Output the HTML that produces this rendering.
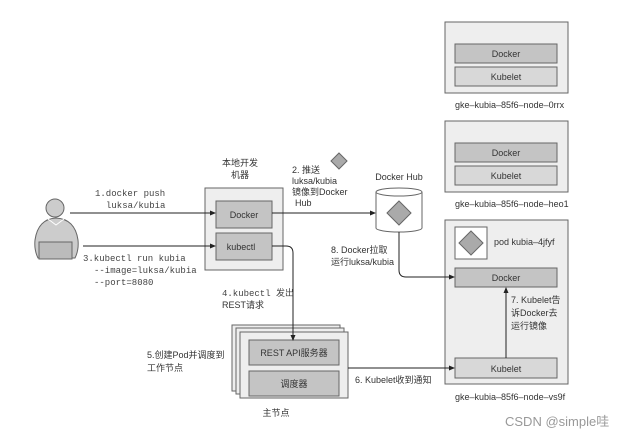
<!DOCTYPE html>
<html><head><meta charset="utf-8"><style>
html,body{margin:0;padding:0;background:#fff}
svg text{font-family:"Liberation Sans","Noto Sans CJK SC",sans-serif;font-size:9px;fill:#333}
.m{font-family:"Liberation Mono","Noto Sans CJK SC",monospace;font-size:9px;fill:#444}
</style></head><body>
<svg width="634" height="439" xmlns="http://www.w3.org/2000/svg">
<defs><marker id="a" markerWidth="6" markerHeight="6" refX="5" refY="3" orient="auto"><path d="M0,0.5 L6,3 L0,5.5z" fill="#222"/></marker></defs>
<g stroke="#666" stroke-width="1">
<rect x="445" y="22" width="123" height="71" fill="#eee"/>
<rect x="455" y="44" width="102" height="19" fill="#c4c4c4"/>
<rect x="455" y="67" width="102" height="19" fill="#d8d8d8"/>
<rect x="445" y="121" width="123" height="71" fill="#eee"/>
<rect x="455" y="143" width="102" height="19" fill="#c4c4c4"/>
<rect x="455" y="166" width="102" height="19" fill="#d8d8d8"/>
<rect x="445" y="220" width="123" height="164" fill="#eee"/>
<rect x="455" y="227" width="32" height="32" fill="#fff"/>
<rect x="455" y="268" width="102" height="19" fill="#c4c4c4"/>
<rect x="455" y="358" width="102" height="20" fill="#d8d8d8"/>
<rect x="205" y="188" width="78" height="82" fill="#eee"/>
<rect x="216" y="201" width="56" height="27" fill="#c4c4c4"/>
<rect x="216" y="233" width="56" height="27" fill="#c4c4c4"/>
<rect x="232" y="325" width="108" height="66" fill="#eee"/>
<rect x="236" y="328" width="108" height="66" fill="#eee"/>
<rect x="240" y="332" width="108" height="66" fill="#eee"/>
<rect x="249" y="340" width="90" height="25" fill="#c4c4c4"/>
<rect x="249" y="371" width="90" height="25" fill="#c4c4c4"/>
<path d="M376,192 L376,228 A23,4 0 0 0 422,228 L422,192" fill="#fff"/>
<ellipse cx="399" cy="192" rx="23" ry="4" fill="#fff"/>
<path d="M399,201 L411,213 L399,225 L387,213z" fill="#aaa"/>
<path d="M339,153 L347,161 L339,169 L331,161z" fill="#aaa"/>
<path d="M471,231 L483,243 L471,255 L459,243z" fill="#aaa"/>
<circle cx="55" cy="208" r="9" fill="#ccc"/>
<path d="M38,258 Q34,250 35,240 Q38,219 56,218 Q75,219 78,240 Q79,250 75,258z" fill="#ccc"/>
<path d="M48,219 L56,225 L64,219" fill="none" stroke="#fff"/>
<rect x="39" y="242" width="33" height="17" fill="#bbb"/>
</g>
<g stroke="#222" stroke-width="1" fill="none">
<line x1="70" y1="213" x2="215" y2="213" marker-end="url(#a)"/>
<line x1="83" y1="246" x2="215" y2="246" marker-end="url(#a)"/>
<line x1="272" y1="213" x2="375" y2="213" marker-end="url(#a)"/>
<path d="M272,246 L286,246 Q293,246 293,253 L293,340" marker-end="url(#a)"/>
<path d="M399,232 L399,270 Q399,277 406,277 L454,277" marker-end="url(#a)"/>
<line x1="348" y1="368" x2="454" y2="368" marker-end="url(#a)"/>
<line x1="506" y1="358" x2="506" y2="288" marker-end="url(#a)"/>
</g>
<g text-anchor="middle">
<text x="506" y="57">Docker</text><text x="506" y="80">Kubelet</text>
<text x="506" y="156">Docker</text><text x="506" y="179">Kubelet</text>
<text x="506" y="281">Docker</text><text x="506" y="372">Kubelet</text>
<text x="244" y="218">Docker</text><text x="241" y="250">kubectl</text>
<text x="294" y="356">REST API服务器</text><text x="294" y="387">调度器</text>
<text x="240" y="166">本地开发</text><text x="240" y="178">机器</text>
<text x="276" y="416">主节点</text>
<text x="399" y="180">Docker Hub</text>
</g>
<text x="455" y="108">gke–kubia–85f6–node–0rrx</text>
<text x="455" y="207">gke–kubia–85f6–node–heo1</text>
<text x="455" y="400">gke–kubia–85f6–node–vs9f</text>
<text x="494" y="245">pod kubia–4jfyf</text>
<text x="95" y="196" class="m">1.docker push</text>
<text x="106" y="208" class="m">luksa/kubia</text>
<text x="83" y="261" class="m">3.kubectl run kubia</text>
<text x="94" y="273" class="m">--image=luksa/kubia</text>
<text x="94" y="285" class="m">--port=8080</text>
<text x="222" y="296" class="m">4.kubectl 发出</text>
<text x="222" y="308">REST请求</text>
<text x="147" y="358">5.创建Pod并调度到</text>
<text x="147" y="371">工作节点</text>
<text x="355" y="383">6. Kubelet收到通知</text>
<text x="292" y="173">2. 推送</text>
<text x="292" y="184">luksa/kubia</text>
<text x="292" y="195">镜像到Docker</text>
<text x="295" y="206">Hub</text>
<text x="331" y="253">8. Docker拉取</text>
<text x="331" y="265">运行luksa/kubia</text>
<text x="511" y="303">7. Kubelet告</text>
<text x="511" y="316">诉Docker去</text>
<text x="511" y="329">运行镜像</text>
<text x="505" y="426" style="font-size:13px;fill:#999">CSDN @simple哇</text>
</svg>
</body></html>
